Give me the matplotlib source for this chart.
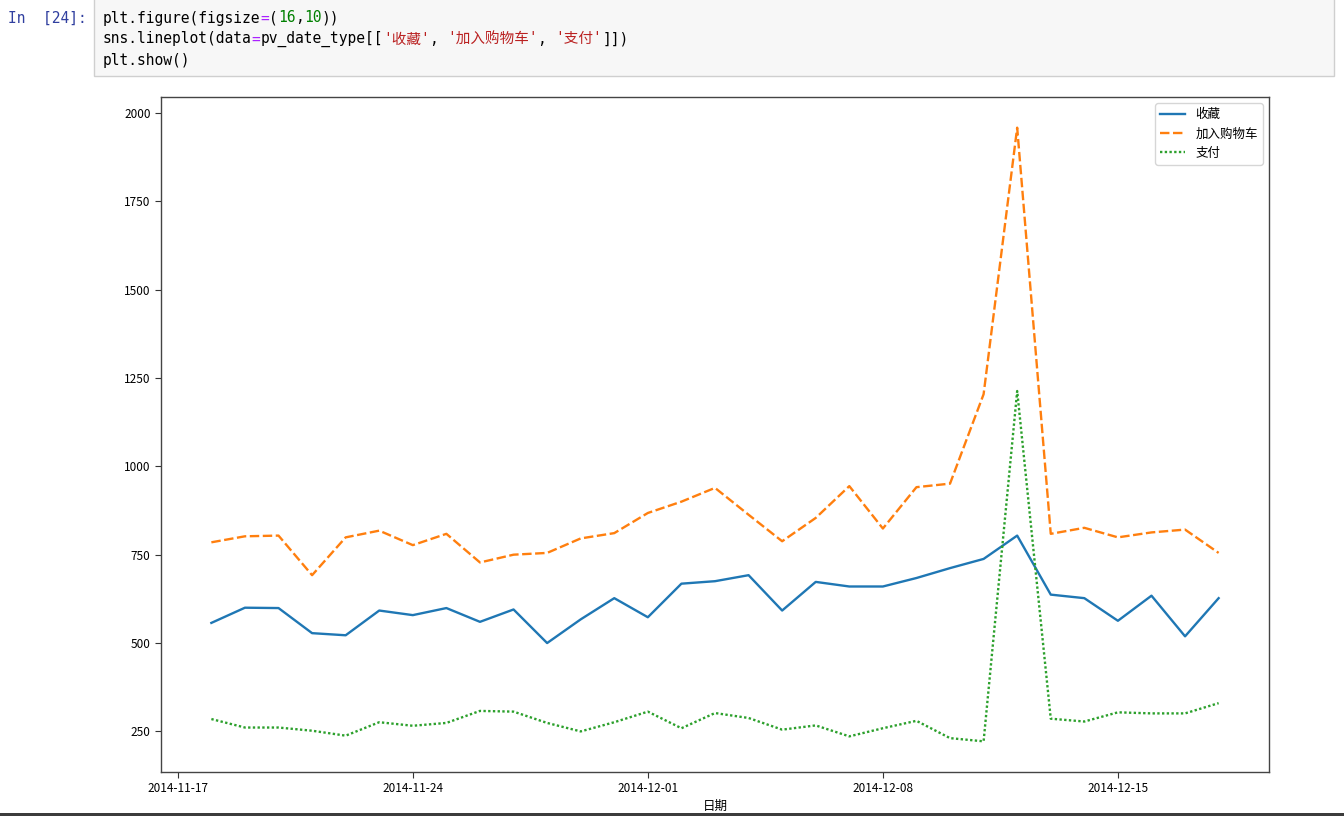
import pandas as pd
import matplotlib
matplotlib.use('Agg')
from matplotlib import pyplot as plt
import matplotlib.dates as mdates
from matplotlib.patches import Rectangle

W, H = 1344, 816

dates = pd.date_range('2014-11-18', '2014-12-18', freq='D')
series_names = ['收藏', '加入购物车', '支付']
collect = [557, 600, 599, 528, 522, 592, 579, 599, 560, 595, 500, 567, 627, 573, 668, 675,
           692, 592, 673, 660, 660, 684, 712, 738, 804, 637, 627, 563, 634, 519, 627]
cart = [785, 802, 804, 692, 799, 818, 777, 809, 728, 750, 755, 796, 811, 868, 900, 939,
        863, 788, 854, 944, 824, 941, 951, 1204, 1958, 809, 826, 799, 813, 821, 755]
pay = [285, 261, 261, 252, 238, 276, 266, 274, 308, 306, 274, 250, 276, 306, 259, 302,
       288, 255, 267, 236, 259, 280, 231, 222, 1213, 286, 278, 304, 301, 301, 330]
x_label = '日期'

# notebook cell text, split into coloured pieces
prompt = 'In  [24]:'
code_lines = [
    [('plt.figure(figsize', 'k'), ('=', '#AA22FF'), ('(', 'k'), ('16', '#008000'), (',', 'k'),
     ('10', '#008000'), ('))', 'k')],
    [('sns.lineplot(data', 'k'), ('=', '#AA22FF'), ('pv_date_type[[', 'k'), ("'收藏'", '#BA2121'),
     (', ', 'k'), ("'加入购物车'", '#BA2121'), (', ', 'k'), ("'支付'", '#BA2121'), (']])', 'k')],
    [('plt.show()', 'k')],
]

plt.rcParams['font.family'] = ['Noto Sans CJK SC', 'DejaVu Sans']
plt.rcParams['axes.unicode_minus'] = False

fig = plt.figure(figsize=(W / 100, H / 100), dpi=100)


def fx(px):
    return px / W


def fy(py):
    return 1 - py / H


# code cell
fig.patches.append(Rectangle((fx(94), fy(76)), fx(1334 - 94), (76 + 2) / H, transform=fig.transFigure,
                             facecolor='#f7f7f7', edgecolor='#cfcfcf', linewidth=1))
code_fam = ['DejaVu Sans Mono', 'Noto Sans CJK SC']
fig.text(fx(8), fy(18), prompt, color='#303F9F', fontsize=10.5, va='center', family=code_fam)
renderer = fig.canvas.get_renderer()
for i, line in enumerate(code_lines):
    x = 103
    y = 18 + i * 21
    for piece, col in line:
        t = fig.text(fx(x), fy(y), piece, color=col, fontsize=10.5, va='center', family=code_fam)
        x += t.get_window_extent(renderer).width

# thin dark bar at the very bottom of the screenshot
fig.patches.append(Rectangle((0, 0), 1, 3 / H, transform=fig.transFigure,
                             facecolor='#3c3c3c', edgecolor='none'))

ax = fig.add_axes([fx(161), fy(772), fx(1269 - 161), (772 - 97) / H])
ax.plot(dates, collect, color='#1f77b4', lw=1.7, label=series_names[0])
ax.plot(dates, cart, color='#ff7f0e', lw=1.7, linestyle=(0, (4, 1.5)), label=series_names[1])
ax.plot(dates, pay, color='#2ca02c', lw=1.7, linestyle=(0, (1, 1)), label=series_names[2])

ax.xaxis.set_major_locator(mdates.WeekdayLocator(byweekday=mdates.MO))
ax.xaxis.set_major_formatter(mdates.DateFormatter('%Y-%m-%d'))
ax.set_yticks([250, 500, 750, 1000, 1250, 1500, 1750, 2000])
ax.tick_params(labelsize=8.5, length=4, color='#333333')
ax.set_xlabel(x_label, fontsize=9, labelpad=3)
for sp in ax.spines.values():
    sp.set_color('#444444')
    sp.set_linewidth(1.0)
ax.legend(loc='upper right', fontsize=9)

fig.savefig('out.png', dpi=100)
